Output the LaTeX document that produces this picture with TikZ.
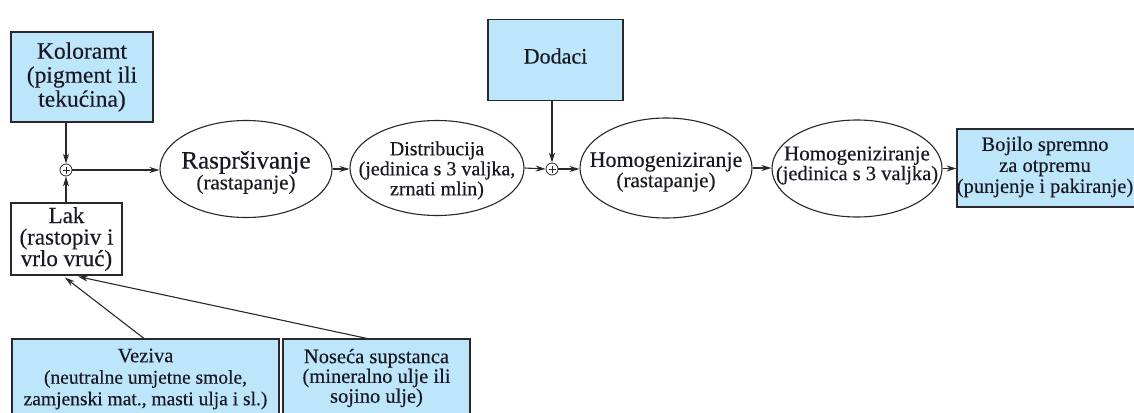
\documentclass[tikz,border=0pt]{standalone}
\usepackage{fontspec}
\setmainfont{Liberation Serif}[FakeBold=0.35]
\usetikzlibrary{shapes.geometric,arrows.meta}
\definecolor{boxblue}{RGB}{190,230,250}
\definecolor{edgegray}{RGB}{40,40,45}
\definecolor{inkcol}{RGB}{25,25,38}
\newcommand{\fsz}[2]{\fontsize{#1}{#2}\selectfont}
\begin{document}
\begin{tikzpicture}[x=1pt,y=-1pt,
  bluebox/.style={draw=edgegray,line width=1.1pt,fill=boxblue,rectangle,inner sep=0pt,align=center,text=inkcol},
  whitebox/.style={draw=edgegray,line width=1.1pt,fill=white,rectangle,inner sep=0pt,align=center,text=inkcol},
  oval/.style={draw=edgegray,line width=1.1pt,ellipse,inner sep=0pt,fill=white},
  txt/.style={align=center,inner sep=0pt,text=inkcol},
  plus/.style={draw=edgegray,line width=0.8pt,circle,minimum size=12pt,inner sep=0pt,fill=white},
  conn/.style={draw=edgegray,line width=1.1pt,-{Stealth[length=10pt,width=6pt]}},
  plusbar/.style={draw=edgegray,line width=0.8pt}
]
\useasboundingbox (0,0) rectangle (1134,412);
\clip (0,0) rectangle (1134,412);
\fill[white] (0,0) rectangle (1134,412);

% boxes
\node[bluebox,minimum width=142pt,minimum height=90pt,font=\fsz{23.5}{24}] (kol) at (82,77) {Koloramt\\(pigment ili\\tekućina)};
\node[whitebox,minimum width=111pt,minimum height=72pt,font=\fsz{23}{21.5}] (lak) at (66.5,239) {Lak\\(rastopiv i\\vrlo vruć)};
\node[bluebox,minimum width=135pt,minimum height=81pt] (dod) at (555.5,60) {};
\node[txt,font=\fsz{22}{24}] (dodt) at (555.5,56) {Dodaci};
\node[bluebox,minimum width=190pt,minimum height=78pt] (boj) at (1052,168) {};
\node[txt,font=\fsz{20.5}{21}] (bojt) at (1045,167) {Bojilo spremno\\za otpremu\\(punjenje i pakiranje)};
\node[bluebox,minimum width=267pt,minimum height=91pt] (vez) at (145.5,384.5) {};
\node[txt,font=\fsz{19.5}{21.5}] (vezt) at (145.5,379) {{\fsz{20.5}{21.5}Veziva}\\(neutralne umjetne smole,\\zamjenski mat., masti ulja i sl.)};
\node[bluebox,minimum width=187pt,minimum height=91pt] (nos) at (376.5,384.5) {};
\node[txt,font=\fsz{20.5}{19.8}] (nost) at (376.5,378) {Noseća supstanca\\(mineralno ulje ili\\sojino ulje)};

% ellipses
\node[oval,minimum width=172pt,minimum height=97pt] (r1) at (246,169) {};
\node[txt] (r1t) at (246,172.5) {{\fsz{25}{23}Raspršivanje}\\{\fsz{21}{23}(rastapanje)}};
\node[oval,minimum width=174pt,minimum height=95pt] (d1) at (437,168) {};
\node[txt,font=\fsz{20}{20}] (d1t) at (437,170.5) {Distribucija\\(jedinica s 3 valjka,\\zrnati mlin)};
\node[oval,minimum width=172pt,minimum height=100pt] (h1) at (666,168) {};
\node[txt] (h1t) at (666,172) {{\fsz{22}{21.5}Homogeniziranje}\\{\fsz{21}{21.5}(rastapanje)}};
\node[oval,minimum width=170pt,minimum height=97pt] (h2) at (857,168.5) {};
\node[txt] (h2t) at (857,165.5) {{\fsz{21}{20}Homogeniziranje}\\{\fsz{20.5}{20}(jedinica s 3 valjka)}};

% summing junctions
\node[plus] (p1) at (66,170) {};
\draw[plusbar] ([xshift=-3.5pt]p1.center) -- ([xshift=3.5pt]p1.center);
\draw[plusbar] ([yshift=-3.5pt]p1.center) -- ([yshift=3.5pt]p1.center);
\node[plus] (p2) at (552,169) {};
\draw[plusbar] ([xshift=-3.5pt]p2.center) -- ([xshift=3.5pt]p2.center);
\draw[plusbar] ([yshift=-3.5pt]p2.center) -- ([yshift=3.5pt]p2.center);

% connectors
\draw[conn] (p1 |- kol.south) -- (p1.north);
\draw[conn] (p1 |- lak.north) -- (p1.south);
\draw[conn] (p1.east) -- (p1 -| r1.west);
\draw[conn] (r1.east) -- (r1.east -| d1.west);
\draw[conn] (d1.east) -- (p2.west);
\draw[conn] (p2 |- dod.south) -- (p2.north);
\draw[conn] (p2.east) -- (p2 -| h1.west);
\draw[conn] (h1.east) -- (h1.east -| h2.west);
\draw[conn] (h2.east) -- (h2.east -| boj.west);
\draw[conn] ([xshift=-1.5pt]vez.north) -- ([xshift=-1.5pt,yshift=-2pt]lak.south);
\draw[conn] ([xshift=-9.5pt]nos.north) -- ([xshift=11.5pt,yshift=-1pt]lak.south);
\end{tikzpicture}
\end{document}
